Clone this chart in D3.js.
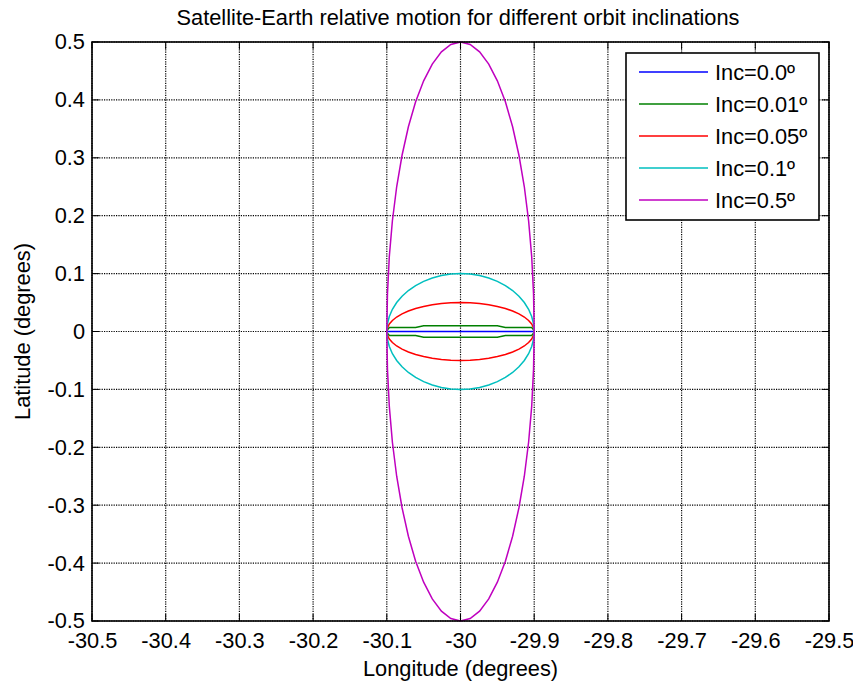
<!DOCTYPE html>
<html lang="en">
<head>
<meta charset="UTF-8">
<title>Satellite-Earth relative motion</title>
<script src="https://d3js.org/d3.v7.min.js"></script>
<style>
  body { margin: 0; background: #fff; }
  svg text { font-family: "Liberation Sans", Arial, sans-serif; fill: #000; }
</style>
</head>
<body>
<div id="chart"></div>
<script>
// tick values and their labels
const xTicks = [-30.5, -30.4, -30.3, -30.2, -30.1, -30, -29.9, -29.8, -29.7, -29.6, -29.5];
const xTickLabels = ["-30.5", "-30.4", "-30.3", "-30.2", "-30.1", "-30", "-29.9", "-29.8", "-29.7", "-29.6", "-29.5"];
const yTicks = [0.5, 0.4, 0.3, 0.2, 0.1, 0, -0.1, -0.2, -0.3, -0.4, -0.5];
const yTickLabels = ["0.5", "0.4", "0.3", "0.2", "0.1", "0", "-0.1", "-0.2", "-0.3", "-0.4", "-0.5"];

// longitude of each sample along the loop (shared by all series)
const lon = [-29.9, -29.9009, -29.9034, -29.9076, -29.9134, -29.9207, -29.9293, -29.9391, -29.95, -29.9617, -29.9741, -29.9869,
  -30, -30.0131, -30.0259, -30.0383, -30.05, -30.0609, -30.0707, -30.0793, -30.0866, -30.0924, -30.0966, -30.0991,
  -30.1, -30.0991, -30.0966, -30.0924, -30.0866, -30.0793, -30.0707, -30.0609, -30.05, -30.0383, -30.0259, -30.0131,
  -30, -29.9869, -29.9741, -29.9617, -29.95, -29.9391, -29.9293, -29.9207, -29.9134, -29.9076, -29.9034, -29.9009, -29.9];

const seriesNames = ["Inc=0.0º", "Inc=0.01º", "Inc=0.05º", "Inc=0.1º", "Inc=0.5º"];
const seriesColors = ["#0000ff", "#008000", "#ff0000", "#00bfbf", "#bf00bf"];

// latitude for each sample
const latInc00 = [0, 0, 0, 0, 0, 0, 0, 0, 0, 0, 0, 0, 0, 0, 0, 0, 0, 0, 0, 0, 0, 0, 0, 0,
  0, 0, 0, 0, 0, 0, 0, 0, 0, 0, 0, 0, 0, 0, 0, 0, 0, 0, 0, 0, 0, 0, 0, 0, 0];
const latInc001 = [0, 0.003, 0.007, 0.007, 0.007, 0.007, 0.007, 0.007, 0.01, 0.01, 0.01, 0.01,
  0.01, 0.01, 0.01, 0.01, 0.01, 0.007, 0.007, 0.007, 0.007, 0.007, 0.007, 0.003,
  0, -0.003, -0.007, -0.007, -0.007, -0.007, -0.007, -0.007, -0.01, -0.01, -0.01, -0.01,
  -0.01, -0.01, -0.01, -0.01, -0.01, -0.007, -0.007, -0.007, -0.007, -0.007, -0.007, -0.003, 0];
const latInc005 = [0, 0.0065, 0.0129, 0.0191, 0.025, 0.0304, 0.0354, 0.0397, 0.0433, 0.0462, 0.0483, 0.0496,
  0.05, 0.0496, 0.0483, 0.0462, 0.0433, 0.0397, 0.0354, 0.0304, 0.025, 0.0191, 0.0129, 0.0065,
  0, -0.0065, -0.0129, -0.0191, -0.025, -0.0304, -0.0354, -0.0397, -0.0433, -0.0462, -0.0483, -0.0496,
  -0.05, -0.0496, -0.0483, -0.0462, -0.0433, -0.0397, -0.0354, -0.0304, -0.025, -0.0191, -0.0129, -0.0065, 0];
const latInc01 = [0, 0.0131, 0.0259, 0.0383, 0.05, 0.0609, 0.0707, 0.0793, 0.0866, 0.0924, 0.0966, 0.0991,
  0.1, 0.0991, 0.0966, 0.0924, 0.0866, 0.0793, 0.0707, 0.0609, 0.05, 0.0383, 0.0259, 0.0131,
  0, -0.0131, -0.0259, -0.0383, -0.05, -0.0609, -0.0707, -0.0793, -0.0866, -0.0924, -0.0966, -0.0991,
  -0.1, -0.0991, -0.0966, -0.0924, -0.0866, -0.0793, -0.0707, -0.0609, -0.05, -0.0383, -0.0259, -0.0131, 0];
const latInc05 = [0, 0.0653, 0.1294, 0.1913, 0.25, 0.3044, 0.3536, 0.3967, 0.433, 0.4619, 0.483, 0.4957,
  0.5, 0.4957, 0.483, 0.4619, 0.433, 0.3967, 0.3536, 0.3044, 0.25, 0.1913, 0.1294, 0.0653,
  0, -0.0653, -0.1294, -0.1913, -0.25, -0.3044, -0.3536, -0.3967, -0.433, -0.4619, -0.483, -0.4957,
  -0.5, -0.4957, -0.483, -0.4619, -0.433, -0.3967, -0.3536, -0.3044, -0.25, -0.1913, -0.1294, -0.0653, 0];

const seriesLat = [latInc00, latInc001, latInc005, latInc01, latInc05];

const W = 853, H = 685;
const m = { left: 92, right: 829, top: 42, bottom: 621 };
const fs = "21.8px";

const svg = d3.select("#chart").append("svg")
  .attr("width", W).attr("height", H);

svg.append("rect").attr("width", W).attr("height", H).attr("fill", "#fff");

const x = d3.scaleLinear().domain([-30.5, -29.5]).range([m.left, m.right]);
const y = d3.scaleLinear().domain([-0.5, 0.5]).range([m.bottom, m.top]);

// dotted grid
svg.append("g").selectAll("line").data(xTicks).enter().append("line")
  .attr("x1", d => x(d)).attr("x2", d => x(d))
  .attr("y1", m.top).attr("y2", m.bottom)
  .attr("stroke", "#000").attr("stroke-width", 1.2).attr("stroke-dasharray", "1.2,1.2");
svg.append("g").selectAll("line").data(yTicks).enter().append("line")
  .attr("x1", m.left).attr("x2", m.right)
  .attr("y1", d => y(d)).attr("y2", d => y(d))
  .attr("stroke", "#000").attr("stroke-width", 1.2).attr("stroke-dasharray", "1.2,1.2");

// curves
const line = d3.line().x(d => x(d[0])).y(d => y(d[1]));
seriesLat.forEach((lat, i) => {
  svg.append("path")
    .datum(lon.map((v, j) => [v, lat[j]]))
    .attr("fill", "none")
    .attr("stroke", seriesColors[i])
    .attr("stroke-width", 1.5)
    .attr("d", line);
});

// axes (labels outside, small inward ticks)
const xAxis = svg.append("g").attr("transform", `translate(0,${m.bottom})`)
  .call(d3.axisBottom(x).tickValues(xTicks).tickSize(0).tickPadding(11.5)
    .tickFormat((d, i) => xTickLabels[i]));
const yAxis = svg.append("g").attr("transform", `translate(${m.left},0)`)
  .call(d3.axisLeft(y).tickValues(yTicks).tickSize(0).tickPadding(7)
    .tickFormat((d, i) => yTickLabels[i]));
[xAxis, yAxis].forEach(g => {
  g.select(".domain").remove();
  g.selectAll("text").style("font-size", fs).attr("fill", "#000");
});

const ticks = svg.append("g").attr("stroke", "#000").attr("stroke-width", 1);
xTicks.forEach(d => {
  ticks.append("line").attr("x1", x(d)).attr("x2", x(d)).attr("y1", m.bottom).attr("y2", m.bottom - 7);
  ticks.append("line").attr("x1", x(d)).attr("x2", x(d)).attr("y1", m.top).attr("y2", m.top + 7);
});
yTicks.forEach(d => {
  ticks.append("line").attr("y1", y(d)).attr("y2", y(d)).attr("x1", m.left).attr("x2", m.left + 7);
  ticks.append("line").attr("y1", y(d)).attr("y2", y(d)).attr("x1", m.right).attr("x2", m.right - 7);
});

svg.append("rect")
  .attr("x", m.left).attr("y", m.top)
  .attr("width", m.right - m.left).attr("height", m.bottom - m.top)
  .attr("fill", "none").attr("stroke", "#000").attr("stroke-width", 1.6);

// title and axis labels
svg.append("text").attr("x", 458).attr("y", 25)
  .attr("text-anchor", "middle").style("font-size", fs)
  .text("Satellite-Earth relative motion for different orbit inclinations");
svg.append("text").attr("x", (m.left + m.right) / 2).attr("y", 676)
  .attr("text-anchor", "middle").style("font-size", fs)
  .text("Longitude (degrees)");
svg.append("text")
  .attr("transform", `translate(30,${(m.top + m.bottom) / 2}) rotate(-90)`)
  .attr("text-anchor", "middle").style("font-size", fs)
  .text("Latitude (degrees)");

// legend
const lg = svg.append("g");
lg.append("rect").attr("x", 626).attr("y", 53).attr("width", 193).attr("height", 167)
  .attr("fill", "#fff").attr("stroke", "#000").attr("stroke-width", 1.6);
seriesNames.forEach((name, i) => {
  const ry = 72 + i * 32;
  lg.append("line").attr("x1", 639).attr("x2", 708).attr("y1", ry).attr("y2", ry)
    .attr("stroke", seriesColors[i]).attr("stroke-width", 1.5);
  lg.append("text").attr("x", 715).attr("y", ry + 8).style("font-size", fs).text(name);
});
</script>
</body>
</html>
